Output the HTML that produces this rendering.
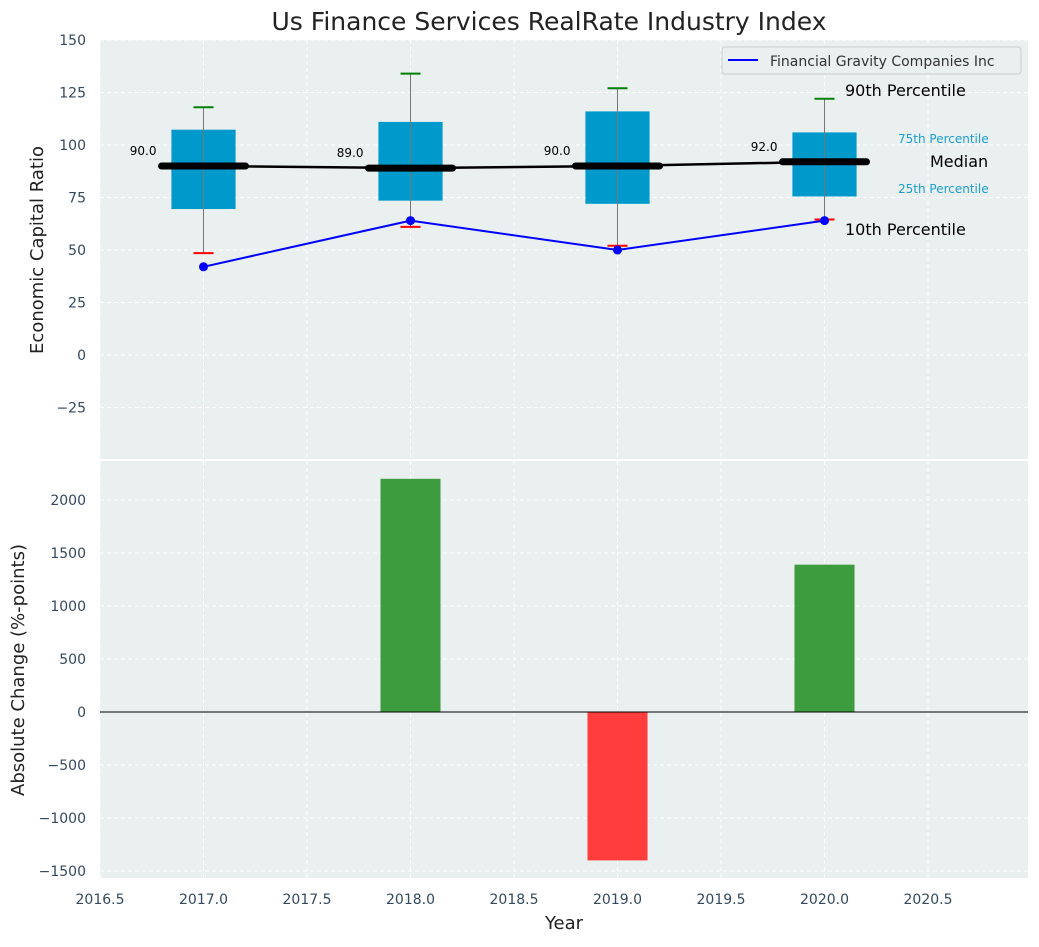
<!DOCTYPE html>
<html><head><meta charset="utf-8"><style>
body{margin:0;background:#fff;font-family:"Liberation Sans","DejaVu Sans",sans-serif}
svg text{font-family:"DejaVu Sans","Liberation Sans",sans-serif}
</style></head><body>
<svg id="c" width="1039" height="942" xmlns="http://www.w3.org/2000/svg"></svg>
<script>
const years=[2017,2018,2019,2020];
const p10=[48.5,61,52,64.5];
const q1=[69.5,73.5,72,75.5];
const med=[90,89,90,92];
const q3=[107.3,111,116,106];
const p90=[118,134,127,122];
const company=[42,64,50,64];
const changes=[0,2200,-1400,1390];
const xTicks=[2016.5,2017,2017.5,2018,2018.5,2019,2019.5,2020,2020.5];
const yTopTicks=[150,125,100,75,50,25,0,-25];
const yBotTicks=[2000,1500,1000,500,0,-500,-1000,-1500];

const svg=document.getElementById('c');const NS='http://www.w3.org/2000/svg';
function el(t,a,txt){const e=document.createElementNS(NS,t);for(const k in a)e.setAttribute(k,a[k]);if(txt!==undefined)e.textContent=txt;svg.appendChild(e);return e;}
const L=100,R=1028,T1=40,B1=459,T2=461,B2=878;
const X=v=>L+(v-2016.5)*207;
const Y1=v=>T1+(150-v)*2.1;
const Y2=v=>712-v*0.106;

let e=el('rect',{x:L,y:T1,width:R-L,height:B1-T1,fill:'#eaeff0'});

e=el('rect',{x:L,y:T2,width:R-L,height:B2-T2,fill:'#eaeff0'});


xTicks.forEach(t=>{
 el('line',{x1:X(t),x2:X(t),y1:T1,y2:B1,stroke:'#fff','stroke-dasharray':'4,3','stroke-width':1});
 el('line',{x1:X(t),x2:X(t),y1:T2,y2:B2,stroke:'#fff','stroke-dasharray':'4,3','stroke-width':1});
 e=el('text',{x:X(t),y:904,'font-size':14,fill:'#34495e','text-anchor':'middle'},t.toFixed(1));
 
});
yTopTicks.forEach(t=>{
 el('line',{x1:L,x2:R,y1:Y1(t),y2:Y1(t),stroke:'#fff','stroke-dasharray':'4,3'});
 e=el('text',{x:86,y:Y1(t)+5,'font-size':14,fill:'#34495e','text-anchor':'end'},t<0?'\u2212'+(-t):t);
 
});
yBotTicks.forEach(t=>{
 el('line',{x1:L,x2:R,y1:Y2(t),y2:Y2(t),stroke:'#fff','stroke-dasharray':'4,3'});
 e=el('text',{x:86,y:Y2(t)+5,'font-size':14,fill:'#34495e','text-anchor':'end'},t<0?'\u2212'+(-t):t);
 
});

years.forEach((y,i)=>{
 const cx=X(y),w=0.31*207;
 e=el('rect',{x:cx-w/2,y:Y1(q3[i]),width:w,height:Y1(q1[i])-Y1(q3[i]),fill:'#0099cc'});
 
 el('line',{x1:cx,x2:cx,y1:Y1(p90[i]),y2:Y1(p10[i]),stroke:'#777','stroke-width':1});
 e=el('line',{x1:cx-10,x2:cx+10,y1:Y1(p90[i]),y2:Y1(p90[i]),stroke:'green','stroke-width':2});
 
 e=el('line',{x1:cx-10,x2:cx+10,y1:Y1(p10[i]),y2:Y1(p10[i]),stroke:'red','stroke-width':2});
 
});
e=el('polyline',{points:years.map((y,i)=>X(y)+','+Y1(med[i])).join(' '),fill:'none',stroke:'#000','stroke-width':2.5});

years.forEach((y,i)=>{
 const cx=X(y);
 e=el('line',{x1:cx-42,x2:cx+42,y1:Y1(med[i]),y2:Y1(med[i]),stroke:'#000','stroke-width':7,'stroke-linecap':'round'});
 
 e=el('text',{x:cx-47,y:Y1(med[i])-11,'font-size':12,fill:'#000','text-anchor':'end'},med[i].toFixed(1));
 
});
e=el('polyline',{points:years.map((y,i)=>X(y)+','+Y1(company[i])).join(' '),fill:'none',stroke:'#0000ff','stroke-width':2});

years.forEach((y,i)=>{e=el('circle',{cx:X(y),cy:Y1(company[i]),r:4.5,fill:'#0000ff'});
 });

const ann=[[845,96,'90th Percentile',16,'#000'],[898,143,'75th Percentile',12,'#1a9fd0'],[930,167,'Median',16,'#000'],[898,193,'25th Percentile',12,'#1a9fd0'],[845,235,'10th Percentile',16,'#000']];
ann.forEach(a=>{e=el('text',{x:a[0],y:a[1],'font-size':a[3],fill:a[4]},a[2]);
 });

e=el('rect',{x:722,y:47,width:299,height:27,rx:3,fill:'#eaeff0',stroke:'#ccc'});

el('line',{x1:728,x2:758,y1:60,y2:60,stroke:'#0000ff','stroke-width':2});
e=el('text',{x:770,y:66,'font-size':14,fill:'#333'},'Financial Gravity Companies Inc');


years.forEach((y,i)=>{const v=changes[i];if(!v)return;const w=0.29*207;
 e=el('rect',{x:X(y)-w/2,y:Math.min(Y2(v),Y2(0)),width:w,height:Math.abs(Y2(v)-Y2(0)),fill:v>0?'#3d9c3d':'#ff3d3d'});
 });
el('line',{x1:L,x2:R,y1:Y2(0),y2:Y2(0),stroke:'#000','stroke-width':1});

e=el('text',{x:549,y:30,'font-size':25,fill:'#222','text-anchor':'middle'},'Us Finance Services RealRate Industry Index');

e=el('text',{x:43,y:250,'font-size':18,fill:'#222','text-anchor':'middle',transform:'rotate(-90 43 250)'},'Economic Capital Ratio');

e=el('text',{x:24,y:670,'font-size':18,fill:'#222','text-anchor':'middle',transform:'rotate(-90 24 670)'},'Absolute Change (%-points)');

e=el('text',{x:564,y:929,'font-size':18,fill:'#222','text-anchor':'middle'},'Year');

</script>
</body></html>
